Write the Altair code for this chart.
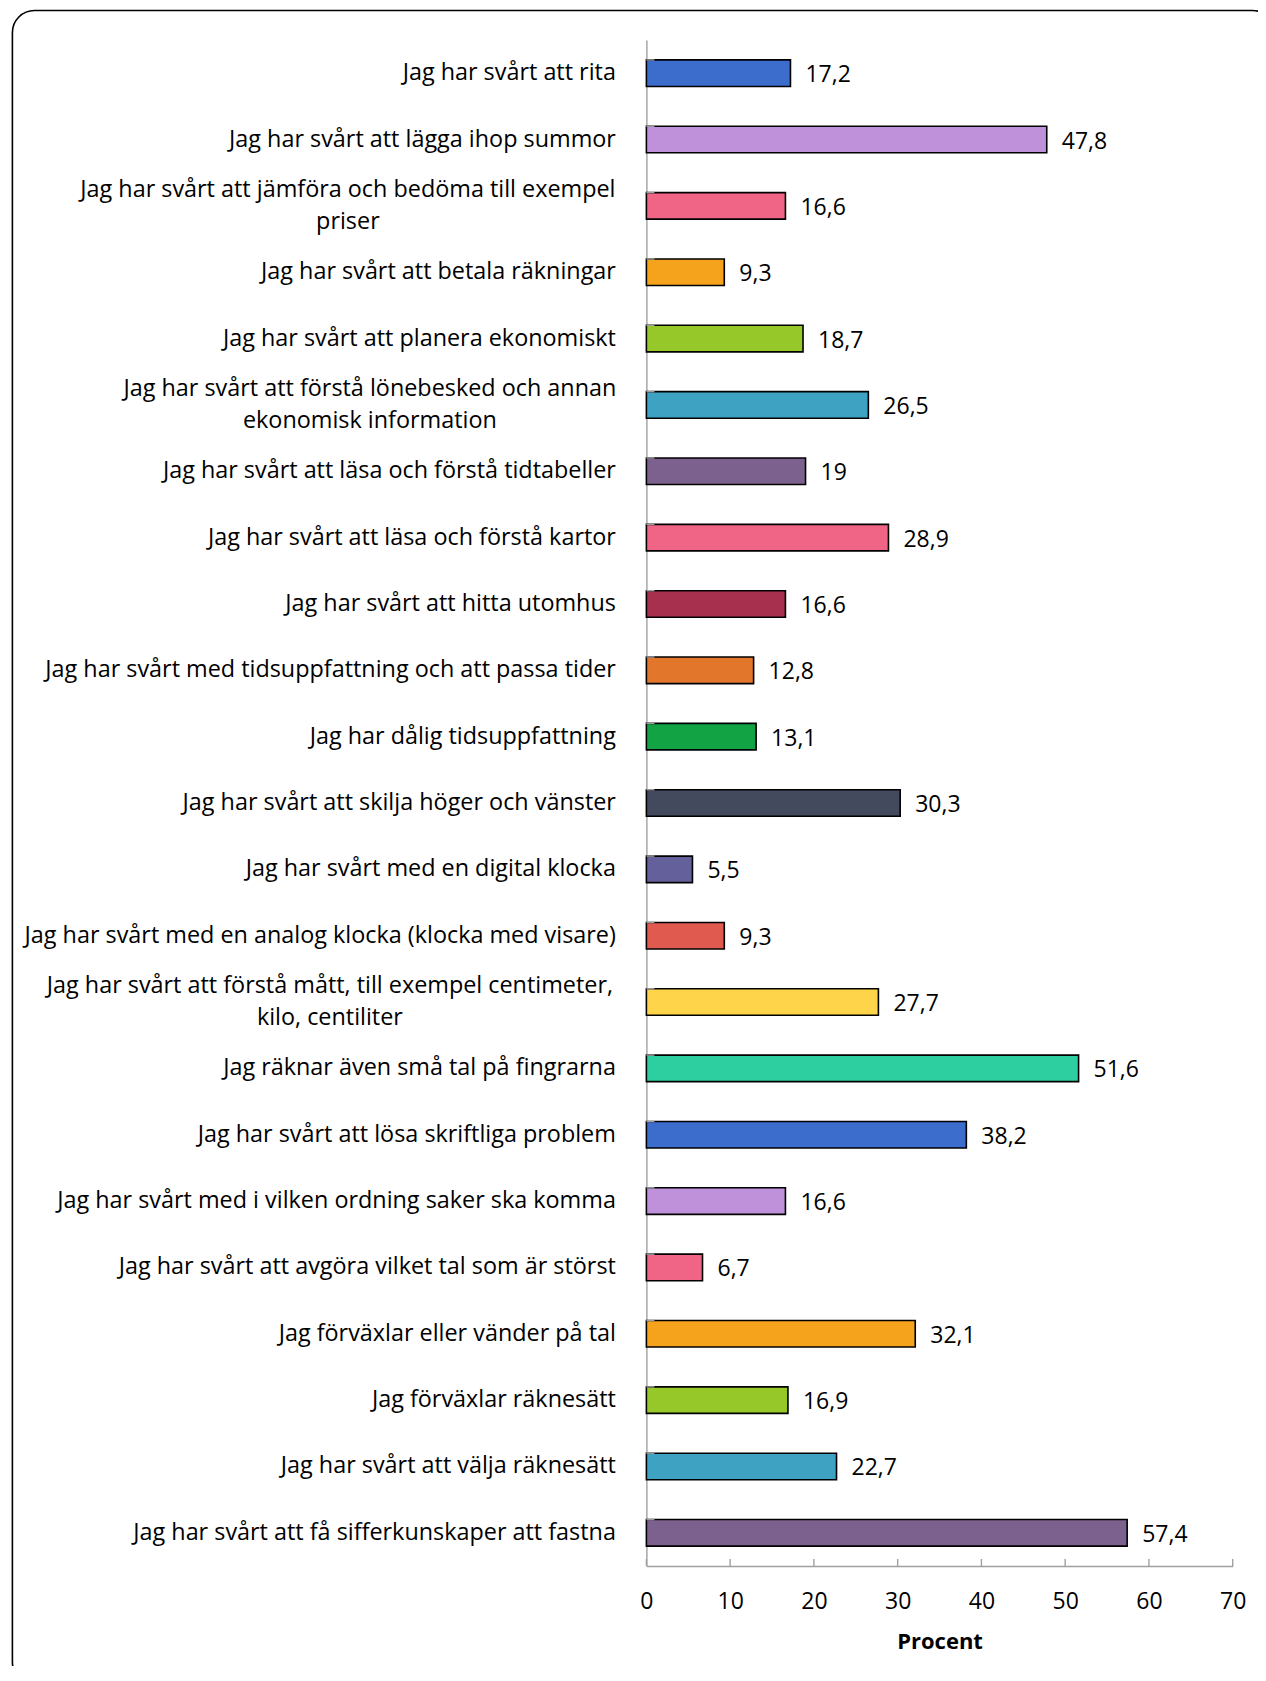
import altair as alt
import pandas as pd

labels = [
    "Jag har svårt att rita",
    "Jag har svårt att lägga ihop summor",
    "Jag har svårt att jämföra och bedöma till exempel|priser",
    "Jag har svårt att betala räkningar",
    "Jag har svårt att planera ekonomiskt",
    "Jag har svårt att förstå lönebesked och annan|ekonomisk information",
    "Jag har svårt att läsa och förstå tidtabeller",
    "Jag har svårt att läsa och förstå kartor",
    "Jag har svårt att hitta utomhus",
    "Jag har svårt med tidsuppfattning och att passa tider",
    "Jag har dålig tidsuppfattning",
    "Jag har svårt att skilja höger och vänster",
    "Jag har svårt med en digital klocka",
    "Jag har svårt med en analog klocka (klocka med visare)",
    "Jag har svårt att förstå mått, till exempel centimeter,|kilo, centiliter",
    "Jag räknar även små tal på fingrarna",
    "Jag har svårt att lösa skriftliga problem",
    "Jag har svårt med i vilken ordning saker ska komma",
    "Jag har svårt att avgöra vilket tal som är störst",
    "Jag förväxlar eller vänder på tal",
    "Jag förväxlar räknesätt",
    "Jag har svårt att välja räknesätt",
    "Jag har svårt att få sifferkunskaper att fastna",
]
values = [17.2, 47.8, 16.6, 9.3, 18.7, 26.5, 19, 28.9, 16.6, 12.8, 13.1, 30.3,
          5.5, 9.3, 27.7, 51.6, 38.2, 16.6, 6.7, 32.1, 16.9, 22.7, 57.4]
colors = ["#3D6DCC", "#BF91DB", "#F06486", "#F5A31D", "#96C829", "#3EA2C3",
          "#7C608E", "#F06486", "#A8304F", "#E2762A", "#12A444", "#444A5E",
          "#64609C", "#E05A50", "#FDD44A", "#2DCFA1", "#3D6DCC", "#BF91DB",
          "#F06486", "#F5A31D", "#96C829", "#3EA2C3", "#7C608E"]
x_ticks = [0, 10, 20, 30, 40, 50, 60, 70]

W = 586.3
H = 1526
FONT = "Open Sans"
AXIS_GRAY = "#A0A0A0"
PAD = 31

# two-line labels are centred as a block (half width of their longest line)
multi_half = {labels[2]: 268, labels[5]: 246, labels[14]: 286}
pad_conditions = [
    {"test": "datum.value === '%s'" % k, "value": PAD + v} for k, v in multi_half.items()
]
MULTI_TEST = "indexof(datum.value, '|') >= 0"

df = pd.DataFrame({"label": labels, "value": values})
ticks_df = pd.DataFrame({"t": x_ticks})

y_enc = alt.Y(
    "label:N",
    sort=None,
    scale=alt.Scale(paddingInner=0.6, paddingOuter=0.3),
    axis=alt.Axis(
        title=None,
        ticks=False,
        domainColor=AXIS_GRAY,
        domainWidth=1.4,
        labelFont=FONT,
        labelFontSize=23.4,
        labelColor="#000000",
        labelPadding={"condition": pad_conditions, "value": PAD},
        labelAlign={"condition": {"test": MULTI_TEST, "value": "center"}, "value": "right"},
        labelOffset={"condition": {"test": MULTI_TEST, "value": -16}, "value": 0},
        labelLimit=0,
        labelLineHeight=32,
        labelExpr="split(datum.label, '|')",
    ),
)
x_scale = alt.Scale(domain=[0, 70], nice=False)
x_axis = alt.Axis(
    values=x_ticks,
    ticks=False,
    grid=False,
    domainColor=AXIS_GRAY,
    domainWidth=1.4,
    labelFont=FONT,
    labelFontSize=23,
    labelColor="#000000",
    labelPadding=25,
    labelFlush=False,
    title="Procent",
    titleFont=FONT,
    titleFontSize=22,
    titleFontWeight="bold",
    titleColor="#000000",
    titlePadding=18,
)

base = alt.Chart(df)

bars = base.mark_bar(stroke="#000000", strokeWidth=1.6).encode(
    y=y_enc,
    x=alt.X("value:Q", scale=x_scale, axis=x_axis),
    color=alt.Color("label:N", scale=alt.Scale(domain=labels, range=colors), legend=None),
)

text = base.transform_calculate(
    txt="replace(toString(datum.value), '.', ',')"
).mark_text(align="left", baseline="middle", dx=15, dy=2, font=FONT, fontSize=23, color="#000000").encode(
    y=alt.Y("label:N", sort=None),
    x=alt.X("value:Q"),
    text="txt:N",
)

y_ticks = base.mark_rule(color=AXIS_GRAY, strokeWidth=1.4).encode(
    y=alt.Y("label:N", sort=None, bandPosition=0),
    x=alt.value(0),
    x2=alt.value(8),
)

x_tick_marks = alt.Chart(ticks_df).mark_rule(color=AXIS_GRAY, strokeWidth=1.4).encode(
    x=alt.X("t:Q"),
    y=alt.value(H - 7),
    y2=alt.value(H),
)

frame = alt.Chart(pd.DataFrame({"f": [0]})).mark_rect(
    fillOpacity=0, stroke="#000000", strokeWidth=1.6, cornerRadius=22
).encode(
    x=alt.value(-634),
    x2=alt.value(628),
    y=alt.value(-29.5),
    y2=alt.value(1644),
)

chart = alt.layer(frame, bars, y_ticks, x_tick_marks, text).properties(
    width=W,
    height=H,
    padding={"left": 638.4, "top": 32, "right": 25, "bottom": 100},
    autosize=alt.AutoSizeParams(type="none"),
).configure_view(stroke=None)

chart.save("out.html", embed_options={"renderer": "svg", "actions": False})
